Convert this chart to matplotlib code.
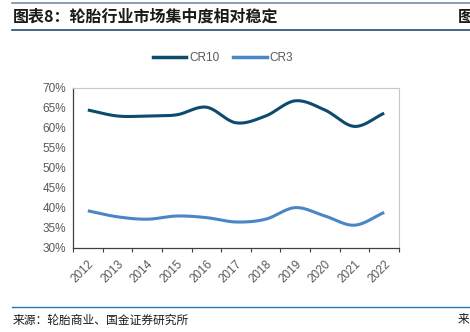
import numpy as np
import matplotlib
matplotlib.use('Agg')
import matplotlib.pyplot as plt
from matplotlib.lines import Line2D

years = ['2012', '2013', '2014', '2015', '2016', '2017', '2018', '2019', '2020', '2021', '2022']
cr10 = [64.5, 63.0, 63.0, 63.3, 65.2, 61.3, 63.0, 66.8, 64.5, 60.4, 63.7]
cr3 = [39.3, 37.8, 37.2, 38.0, 37.6, 36.5, 37.2, 40.1, 38.0, 35.7, 38.9]
yticks = [30, 35, 40, 45, 50, 55, 60, 65, 70]

title = '图表8：轮胎行业市场集中度相对稳定'
source = '来源：轮胎商业、国金证券研究所'

C_CR10 = '#0c4a6e'
C_CR3 = '#4a86c6'
GRAY = '#595959'


def smooth(x, y, n=20):
    # Catmull-Rom curve through the data points (like Excel smoothed lines)
    x = np.asarray(x, float)
    y = np.asarray(y, float)
    px = np.concatenate([[2 * x[0] - x[1]], x, [2 * x[-1] - x[-2]]])
    py = np.concatenate([[2 * y[0] - y[1]], y, [2 * y[-1] - y[-2]]])
    xs, ys = [], []
    t = np.linspace(0, 1, n, endpoint=False)
    for i in range(1, len(px) - 2):
        for p, out in ((px, xs), (py, ys)):
            p0, p1, p2, p3 = p[i - 1], p[i], p[i + 1], p[i + 2]
            out.extend(0.5 * (2 * p1 + (-p0 + p2) * t + (2 * p0 - 5 * p1 + 4 * p2 - p3) * t ** 2
                              + (-p0 + 3 * p1 - 3 * p2 + p3) * t ** 3))
    xs.append(x[-1])
    ys.append(y[-1])
    return np.array(xs), np.array(ys)


plt.rcParams['font.family'] = ['Liberation Sans', 'Noto Sans CJK SC', 'DejaVu Sans']

fig = plt.figure(figsize=(4.7, 3.32), dpi=100)
ax = fig.add_axes([73 / 470, 1 - 248 / 332, 326 / 470, 160 / 332])

xpos = np.arange(len(years))
for vals, col in ((cr10, C_CR10), (cr3, C_CR3)):
    sx, sy = smooth(xpos, vals)
    ax.plot(sx, sy, color=col, linewidth=2.2, solid_capstyle='butt')

ax.set_xlim(-0.5, len(years) - 0.5)
ax.set_ylim(30, 70)
ax.set_yticks(yticks)
ax.set_yticklabels([f'{v}%' for v in yticks], fontsize=8.5, color=GRAY)
ax.tick_params(axis='y', length=0, pad=5)

ax.set_xticks(np.arange(-0.5, len(years), 1.0))
ax.set_xticklabels([])
ax.set_xticks(xpos, minor=True)
ax.set_xticklabels(years, minor=True, rotation=45, ha='right', va='top',
                   fontsize=8.5, color=GRAY, rotation_mode='anchor')
ax.tick_params(axis='x', which='major', length=3, color='#404040', width=0.8)
ax.tick_params(axis='x', which='minor', length=0, pad=7)

ax.spines['left'].set_color('#404040')
ax.spines['bottom'].set_color('#404040')
ax.spines['left'].set_linewidth(0.9)
ax.spines['bottom'].set_linewidth(0.9)
ax.spines['top'].set_color('#c8c8c8')
ax.spines['right'].set_color('#c8c8c8')

handles = [Line2D([], [], color=C_CR10, linewidth=2.5), Line2D([], [], color=C_CR3, linewidth=2.5)]
fig.legend(handles, ['CR10', 'CR3'], loc='center', bbox_to_anchor=(223 / 470, 1 - 58 / 332),
           ncol=2, frameon=False, fontsize=8.5, handlelength=2.8, handletextpad=0.25,
           columnspacing=1.2, labelcolor=GRAY, borderpad=0)

# header / footer decorations
fig.add_artist(Line2D([12 / 470, 1], [1 - 3 / 332] * 2, color='#6f8fab', linewidth=1.2))
fig.add_artist(Line2D([12 / 470, 1], [1 - 29.5 / 332] * 2, color='#1f4e79', linewidth=1.2))
fig.add_artist(Line2D([12 / 470, 1], [1 - 307 / 332] * 2, color='#2e75b6', linewidth=1.0))

fig.text(13 / 470, 1 - 17 / 332, title, fontsize=11.5, fontweight='bold', color='#1a1a1a',
         va='center', ha='left', family=['Noto Sans CJK SC', 'DejaVu Sans'])
fig.text(458 / 470, 1 - 17 / 332, '图', fontsize=11.5, fontweight='bold', color='#1a1a1a',
         va='center', ha='left', family=['Noto Sans CJK SC', 'DejaVu Sans'])
fig.text(13 / 470, 1 - 320 / 332, source, fontsize=8.5, color='#1a1a1a',
         va='center', ha='left', family=['Noto Sans CJK SC', 'DejaVu Sans'])
fig.text(458 / 470, 1 - 320 / 332, '来', fontsize=8.5, color='#1a1a1a',
         va='center', ha='left', family=['Noto Sans CJK SC', 'DejaVu Sans'])

fig.savefig('out.png', dpi=100)
